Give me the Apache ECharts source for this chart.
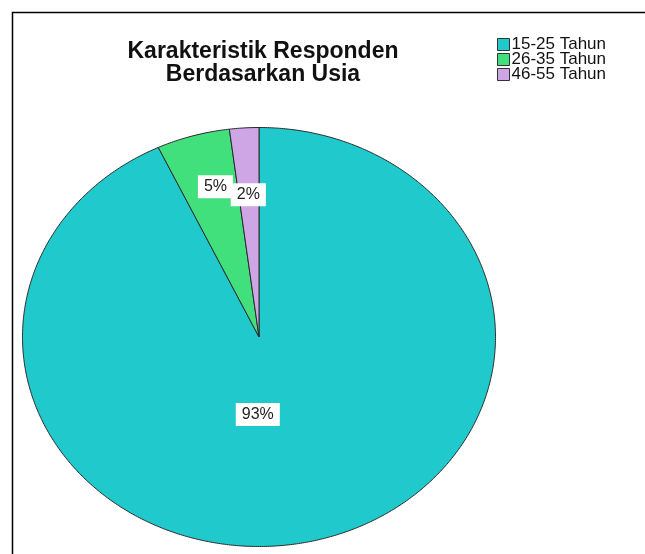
<!DOCTYPE html>
<html>
<head>
<meta charset="utf-8">
<title>Karakteristik Responden Berdasarkan Usia</title>
<script src="https://cdn.jsdelivr.net/npm/echarts@6/dist/echarts.min.js"></script>
<style>
  html, body { margin: 0; padding: 0; background: #ffffff; }
  #chart { width: 645px; height: 554px; }
</style>
</head>
<body>
<div id="chart"></div>
<script>
// Age groups of respondents and their shares (percent)
const categories = ['15-25 Tahun', '26-35 Tahun', '46-55 Tahun'];
const percents = [93, 5, 2];
const percentLabels = ['93%', '5%', '2%'];

// Styling
const sliceColors = ['#20cacc', '#42e07c', '#cea5e5'];
const outlineColor = '#2b2b2b';

// Elliptical pie layout (centre and radii in px)
const pie = { cx: 259, cy: 337, rx: 236.5, ry: 209.5 };
// Label anchor per slice: [fraction along the slice's arc, fraction of the radius]
const labelSpots = [[0.54, 0.37], [0.6, 0.74], [0.47, 0.68]];

const total = percents.reduce((a, b) => a + b, 0);
const startShares = percents.map((_, i) =>
  percents.slice(0, i).reduce((a, b) => a + b, 0) / total);

// Point on the ellipse: angle measured clockwise from 12 o'clock
function ellipsePoint(t, f) {
  return [pie.cx + pie.rx * f * Math.sin(t), pie.cy - pie.ry * f * Math.cos(t)];
}

function makeRenderer(idx) {
  return function (params, api) {
    const value = api.value(0);
    const a0 = startShares[idx] * Math.PI * 2;
    const a1 = a0 + value / total * Math.PI * 2;
    const steps = Math.max(4, Math.ceil((a1 - a0) / (Math.PI / 360)));
    const pts = [[pie.cx, pie.cy]];
    for (let s = 0; s <= steps; s++) {
      pts.push(ellipsePoint(a0 + (a1 - a0) * s / steps, 1));
    }
    const spot = labelSpots[idx];
    const lp = ellipsePoint(a0 + (a1 - a0) * spot[0], spot[1]);
    return {
      type: 'group',
      children: [
        {
          type: 'polygon',
          shape: { points: pts },
          style: { fill: sliceColors[idx], stroke: outlineColor, lineWidth: 1 }
        },
        {
          type: 'text',
          z2: 10,
          x: lp[0],
          y: lp[1],
          style: {
            text: percentLabels[idx],
            align: 'center',
            verticalAlign: 'middle',
            fontFamily: 'Liberation Sans, Arial, sans-serif',
            fontSize: 16,
            fill: '#222222',
            backgroundColor: '#ffffff',
            padding: [4, 6, 3, 6]
          }
        }
      ]
    };
  };
}

const chart = echarts.init(document.getElementById('chart'), null, { renderer: 'canvas' });

chart.setOption({
  backgroundColor: '#ffffff',
  animation: false,
  title: {
    text: 'Karakteristik Responden\nBerdasarkan Usia',
    left: 258,
    top: 35,
    textAlign: 'center',
    textStyle: {
      fontFamily: 'Liberation Sans, Arial, sans-serif',
      fontSize: 23,
      fontWeight: 'bold',
      lineHeight: 23,
      color: '#111111'
    }
  },
  legend: {
    orient: 'vertical',
    left: 497,
    top: 36,
    padding: 0,
    itemGap: -2,
    itemWidth: 12,
    itemHeight: 12,
    icon: 'rect',
    selectedMode: false,
    data: categories,
    itemStyle: { borderColor: '#333333', borderWidth: 1 },
    textStyle: {
      fontFamily: 'Liberation Sans, Arial, sans-serif',
      fontSize: 17,
      lineHeight: 14,
      color: '#111111',
      padding: [0, 0, 0, -3]
    }
  },
  graphic: [
    {
      type: 'polyline',
      silent: true,
      shape: { points: [[12.5, 554], [12.5, 12.5], [645, 12.5]] },
      style: { stroke: '#000000', lineWidth: 1.5, fill: null }
    }
  ],
  series: categories.map((name, i) => ({
    type: 'custom',
    name: name,
    coordinateSystem: 'none',
    itemStyle: { color: sliceColors[i], borderColor: outlineColor, borderWidth: 1 },
    renderItem: makeRenderer(i),
    data: [[percents[i]]]
  }))
});
</script>
</body>
</html>
